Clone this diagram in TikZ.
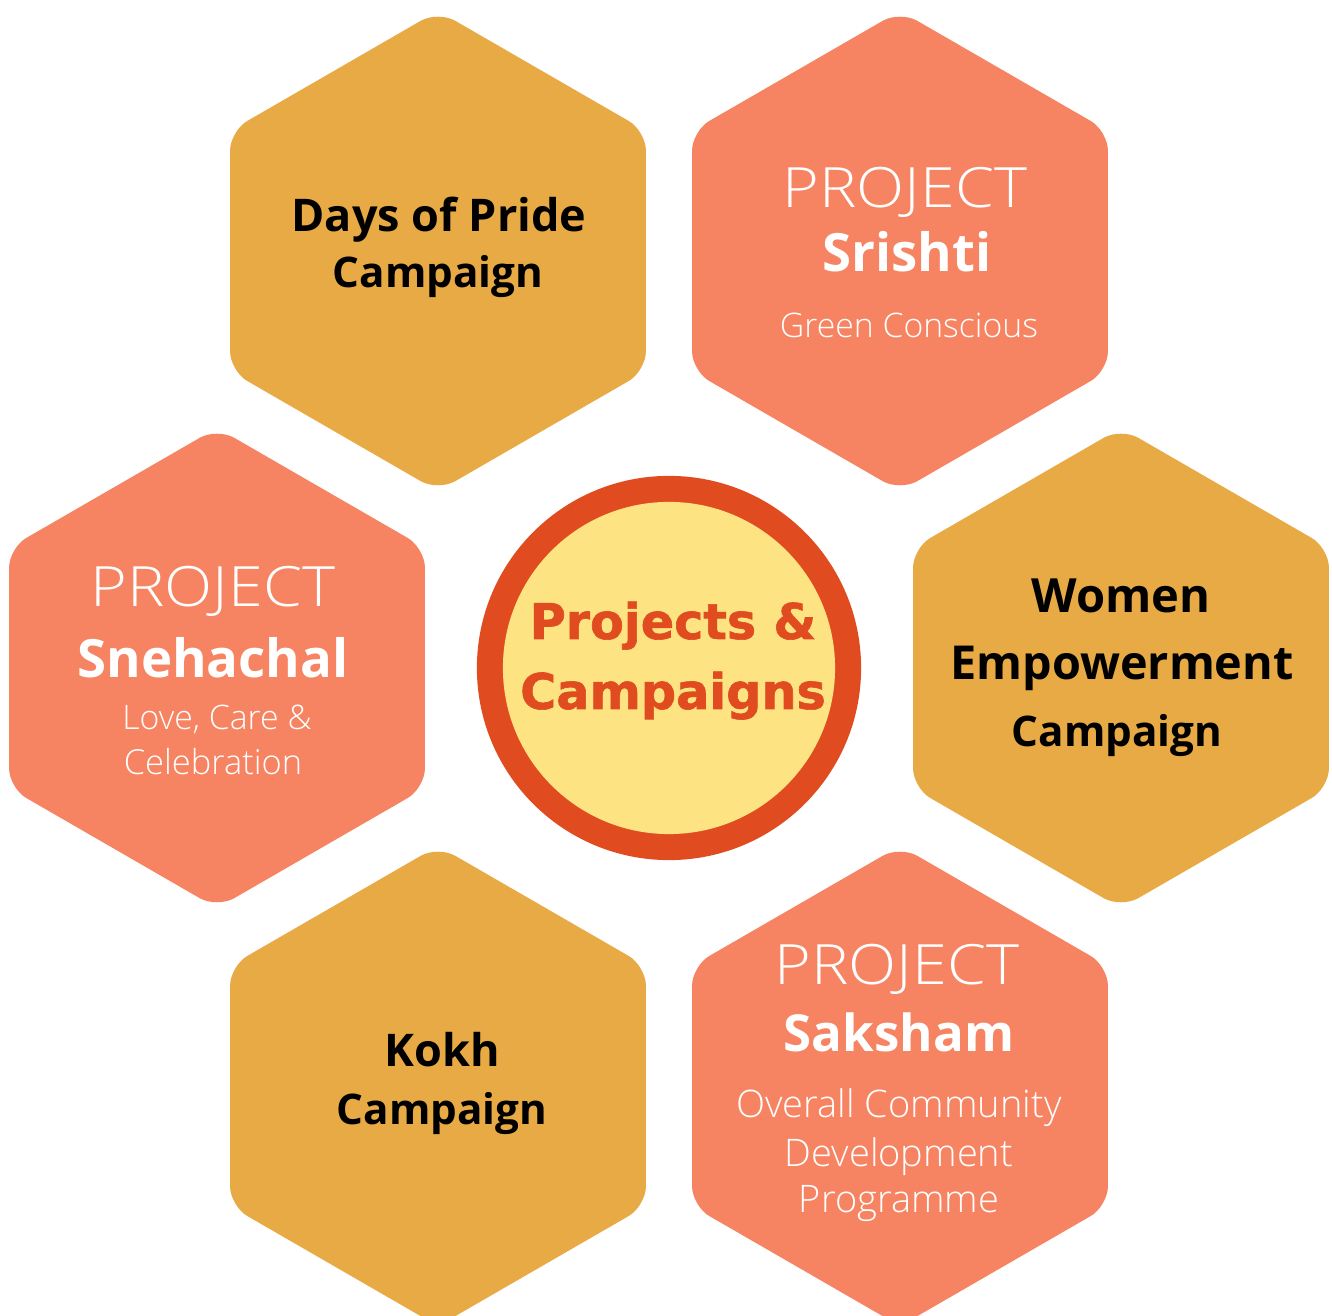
\documentclass[tikz,border=0pt]{standalone}
\usepackage{fontspec}
\usetikzlibrary{shapes.geometric}
\setmainfont{Open Sans}
\IfFontExistsTF{Open Sans Light}{\newfontfamily\lightf{Open Sans Light}\newfontfamily\lightw[FakeStretch=1.13]{Open Sans Light}}{\newfontfamily\lightf{Open Sans}\newfontfamily\lightw[FakeStretch=1.13]{Open Sans}}
\newfontfamily\heavyf[FakeBold=1.2]{DejaVu Sans}
\definecolor{gold}{HTML}{E8AA44}
\definecolor{salmon}{HTML}{F68361}
\definecolor{ring}{HTML}{E04B1F}
\definecolor{pale}{HTML}{FDE381}
\tikzset{
  hexa/.style={regular polygon, regular polygon sides=6, shape border rotate=30,
    minimum size=4.8cm, inner sep=0pt, outer sep=0pt, rounded corners=0.2cm, draw=none},
  lbl/.style={anchor=base, inner sep=0pt},
  darkt/.style={lbl, text=black, font=\fontsize{12.8pt}{14pt}\selectfont\bfseries},
  projt/.style={lbl, text=white, font=\fontsize{15.8pt}{18pt}\selectfont\lightw},
  namet/.style={lbl, text=white, font=\fontsize{15pt}{17pt}\selectfont\bfseries},
  subt/.style={lbl, text=white, font=\fontsize{9.6pt}{11pt}\selectfont\lightf},
  ctrt/.style={lbl, text=ring, font=\fontsize{14pt}{15pt}\selectfont\heavyf\bfseries},
}
\begin{document}
\begin{tikzpicture}[x=0.01cm, y=-0.01cm]
\clip (0,0) rectangle (1332,1316);
\fill[white] (0,0) rectangle (1332,1316);
% hexagons
\node[hexa, fill=gold]   (h1) at (438,251)  {};
\node[hexa, fill=salmon] (h2) at (900,251)  {};
\node[hexa, fill=salmon] (h3) at (217,668)  {};
\node[hexa, fill=gold]   (h4) at (1121,668) {};
\node[hexa, fill=gold]   (h5) at (438,1086) {};
\node[hexa, fill=salmon] (h6) at (900,1086) {};
% centre
\node[circle, fill=ring, minimum size=3.84cm, inner sep=0pt] (c0) at (669,668) {};
\node[circle, fill=pale, minimum size=3.32cm, inner sep=0pt] (c1) at (669,668) {};
\node[ctrt] (ca) at (673,639) {Projects \&};
\node[ctrt] (cb) at (673,709) {Campaigns};
% Days of Pride
\node[darkt] (t1a) at (439,232) {Days of Pride};
\node[darkt, font=\fontsize{12pt}{14pt}\selectfont\bfseries] (t1b) at (438,288) {Campaign};
% Srishti
\node[projt] (t2a) at (905,208) {PROJECT};
\node[namet] (t2b) at (907,272) {Srishti};
\node[subt]  (t2c) at (909,338) {Green Conscious};
% Snehachal
\node[projt] (t3a) at (213,607) {PROJECT};
\node[namet] (t3b) at (213,678) {Snehachal};
\node[subt]  (t3c) at (217,730) {Love, Care \&};
\node[subt, font=\fontsize{9.8pt}{11pt}\selectfont\lightf] (t3d) at (213,775) {Celebration};
% Women
\node[darkt, font=\fontsize{13.4pt}{16pt}\selectfont\bfseries] (t4a) at (1121,613) {Women};
\node[darkt, font=\fontsize{13.3pt}{16pt}\selectfont\bfseries] (t4b) at (1122,680) {Empowerment};
\node[darkt, font=\fontsize{12pt}{14pt}\selectfont\bfseries] (t4c) at (1117,747) {Campaign};
% Kokh
\node[darkt, font=\fontsize{12.8pt}{16pt}\selectfont\bfseries] (t5a) at (442,1067) {Kokh};
\node[darkt, font=\fontsize{12pt}{14pt}\selectfont\bfseries] (t5b) at (442,1125) {Campaign};
% Saksham
\node[projt] (t6a) at (897,985) {PROJECT};
\node[namet, font=\fontsize{14.5pt}{17pt}\selectfont\bfseries] (t6b) at (899,1052) {Saksham};
\node[subt, font=\fontsize{10.8pt}{12pt}\selectfont\lightf] (t6c) at (899,1118) {Overall Community};
\node[subt, font=\fontsize{10.8pt}{12pt}\selectfont\lightf] (t6d) at (899,1167) {Development};
\node[subt, font=\fontsize{10.8pt}{12pt}\selectfont\lightf] (t6e) at (899,1213) {Programme};
\end{tikzpicture}
\end{document}
